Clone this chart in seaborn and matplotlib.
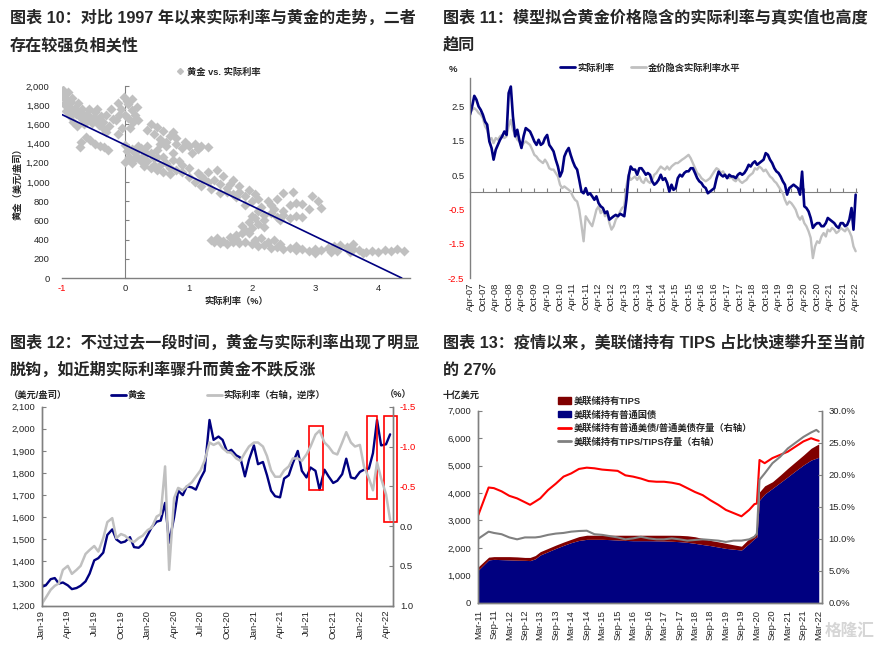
import matplotlib.pyplot as plt
import matplotlib.dates as mdates
from matplotlib.lines import Line2D
from matplotlib.patches import Patch, Rectangle
import numpy as np
import pandas as pd
import seaborn as sns

sns.set_style('white')
plt.rcParams['font.family'] = ['Liberation Sans', 'Noto Sans CJK SC', 'DejaVu Sans']
plt.rcParams['axes.unicode_minus'] = False

NAVY = '#000080'
LGRAY = '#C0C0C0'
AXC = '#808080'
TICK = 6.8

# ---------------- 图表10: 黄金 vs 实际利率 (1997-) ----------------
gold_vs_rate = [
    # 2011-2012 高金价
    (-0.98, 1960), (-0.95, 1925), (-0.99, 1885), (-0.93, 1860), (-0.97, 1815), (-0.90, 1790),
    (-0.86, 1835), (-0.85, 1745), (-0.80, 1770), (-0.78, 1705), (-0.72, 1725), (-0.70, 1665),
    (-0.66, 1695), (-0.62, 1645), (-0.60, 1705), (-0.55, 1665), (-0.52, 1615), (-0.48, 1725),
    (-0.45, 1645), (-0.42, 1595), (-0.38, 1685), (-0.35, 1625), (-0.88, 1690), (-0.82, 1620),
    (-0.76, 1585), (-0.93, 1740), (-0.68, 1760), (-0.58, 1760), (-0.50, 1680), (-0.65, 1600),
    (-0.72, 1360), (-0.70, 1420), (-0.62, 1470), (-0.55, 1440), (-0.48, 1400), (-0.40, 1380),
    (-0.33, 1360), (-0.28, 1330), (-0.90, 1940), (-0.84, 1880), (-0.74, 1820), (-0.44, 1760),
    # 2019-2020
    (-0.30, 1700), (-0.22, 1760), (-0.12, 1820), (-0.02, 1890), (-0.06, 1760), (0.05, 1810),
    (0.10, 1745), (0.15, 1700), (0.05, 1665), (-0.15, 1645), (-0.25, 1585), (0.12, 1625),
    (-0.05, 1565), (0.18, 1785), (0.00, 1700), (-0.10, 1700), (-0.20, 1660), (0.08, 1560),
    (-0.35, 1560), (0.20, 1650), (-0.30, 1520), (-0.12, 1500), (0.02, 1840), (0.10, 1860),
    (0.40, 1600), (0.50, 1575), (0.60, 1535), (0.70, 1480), (0.45, 1505), (0.75, 1525),
    (0.80, 1455), (0.55, 1450), (0.65, 1420), (0.35, 1540),
    # 2010-2018
    (0.00, 1390), (0.02, 1320), (0.06, 1260), (0.00, 1205), (0.10, 1200), (0.15, 1300),
    (0.20, 1250), (0.25, 1350), (0.30, 1280), (0.35, 1220), (0.40, 1300), (0.45, 1250),
    (0.50, 1330), (0.55, 1180), (0.60, 1260), (0.65, 1380), (0.70, 1150), (0.75, 1300),
    (0.80, 1400), (0.85, 1220), (0.90, 1350), (1.00, 1380), (1.10, 1400), (1.20, 1380),
    (1.30, 1360), (0.50, 1120), (0.60, 1100), (0.70, 1080), (0.40, 1150), (0.30, 1170),
    (0.20, 1380), (0.95, 1420), (1.05, 1300), (0.35, 1380), (0.55, 1400), (0.45, 1180),
    (0.80, 1130), (0.90, 1180), (0.25, 1220), (0.10, 1340), (0.15, 1250), (0.65, 1200),
    (0.75, 1230), (1.15, 1340), (0.30, 1320), (0.50, 1260),
    # 2008-2009
    (0.90, 1100), (1.00, 1050), (1.10, 1000), (1.15, 1090), (1.20, 960), (1.30, 1000),
    (1.35, 930), (1.40, 1020), (1.50, 980), (1.60, 940), (1.50, 890), (1.70, 880),
    (1.80, 900), (1.75, 840), (1.90, 850), (2.00, 800), (1.90, 760), (1.65, 980),
    (1.80, 960), (1.30, 1100), (1.55, 1060), (1.95, 920), (2.05, 880), (2.10, 820),
    (1.00, 1150), (1.20, 1060), (1.45, 1120), (1.70, 1020), (1.25, 1030), (1.60, 900),
    # 2006-2008
    (2.10, 700), (2.20, 660), (2.30, 680), (2.40, 640), (2.50, 660), (2.60, 620),
    (2.70, 650), (2.80, 640), (2.35, 720), (2.50, 700), (2.20, 600), (2.45, 600),
    (2.15, 740), (2.30, 760), (2.60, 760), (2.70, 780), (2.80, 770), (2.95, 850),
    (3.05, 800), (3.10, 730), (2.90, 720), (2.50, 890), (2.40, 820), (2.65, 900),
    (2.25, 800), (2.00, 650),
    (1.90, 500), (2.00, 520), (2.10, 560), (1.95, 580), (2.20, 530), (1.85, 540), (2.05, 620),
    # 1997-2005
    (1.35, 400), (1.45, 420), (1.55, 390), (1.65, 430), (1.75, 450), (1.85, 470),
    (1.95, 470), (1.50, 360), (1.60, 350), (1.70, 380), (1.80, 360), (1.90, 380),
    (2.00, 350), (2.10, 330), (2.20, 340), (2.30, 310), (2.40, 320), (2.50, 300),
    (2.60, 310), (2.70, 290), (2.80, 300), (2.90, 280), (3.00, 300), (3.10, 290),
    (3.20, 310), (3.30, 330), (3.40, 340), (3.50, 320), (3.60, 300), (3.70, 290),
    (3.80, 270), (3.90, 280), (4.00, 270), (4.10, 290), (4.20, 280), (4.30, 300),
    (4.40, 280), (3.35, 280), (3.55, 270), (3.75, 260), (2.05, 400), (2.25, 370),
    (2.45, 350), (1.75, 410), (3.00, 260), (2.70, 330), (3.60, 350), (3.25, 270),
    (2.15, 420), (2.35, 400), (1.40, 370),
]
rate_pts = [p[0] for p in gold_vs_rate]
gold_pts = [p[1] for p in gold_vs_rate]
fit_intercept = 1385.0
fit_slope = -317.0
fit_range = [-1.0, 4.37]

# ---------------- 图表11: 实际利率 vs 金价隐含实际利率 (月度, Apr-07 ~ Apr-22) ----------------
real_rate_m = [
    2.26, 2.50, 2.81, 2.70, 2.50, 2.40, 2.26, 2.06, 1.97,
    1.48, 1.29, 0.95, 1.24, 1.38, 1.53, 1.63, 1.77, 1.67, 2.89, 3.08, 2.21,
    1.63, 1.82, 1.53, 1.29, 1.63, 1.87, 1.82, 1.77, 1.63, 1.48, 1.38, 1.53,
    1.38, 1.43, 1.58, 1.67, 1.38, 1.29, 1.19, 0.95, 0.75, 0.46, 0.61, 1.04,
    1.19, 1.29, 1.09, 0.90, 0.75, 0.66, 0.36, 0.02, -0.03, 0.12, -0.07, -0.03,
    -0.12, -0.22, -0.12, -0.32, -0.41, -0.46, -0.61, -0.56, -0.80, -0.75, -0.70, -0.66,
    -0.70, -0.63, -0.66, -0.70, -0.22, 0.46, 0.75, 0.66, 0.66, 0.51, 0.70, 0.70,
    0.61, 0.51, 0.56, 0.51, 0.32, 0.22, 0.27, 0.36, 0.51, 0.36, 0.41, 0.27,
    0.02, 0.22, 0.07, 0.12, 0.41, 0.51, 0.46, 0.56, 0.61, 0.61, 0.70, 0.70,
    0.56, 0.41, 0.32, 0.27, 0.17, 0.12, -0.03, 0.02, 0.07, 0.12, 0.40, 0.60,
    0.51, 0.46, 0.51, 0.41, 0.51, 0.46, 0.46, 0.41, 0.51, 0.56, 0.51, 0.56,
    0.66, 0.80, 0.75, 0.85, 0.90, 0.80, 0.85, 0.90, 0.95, 1.14, 1.09, 0.95,
    0.85, 0.70, 0.61, 0.56, 0.46, 0.32, 0.22, -0.07, 0.12, 0.17, 0.22, 0.17,
    0.12, -0.07, 0.60, -0.41, -0.46, -0.56, -0.75, -1.04, -0.95, -0.90, -0.90, -0.99,
    -0.99, -0.90, -0.75, -0.80, -0.85, -0.90, -0.99, -1.04, -0.90, -0.90, -0.99, -0.95,
    -0.80, -0.46, -1.09, -0.07,
]
implied_rate_m = [
    2.31, 2.40, 2.45, 2.40, 2.31, 2.26, 2.16, 1.92, 1.82,
    1.53, 1.58, 1.43, 1.58, 1.53, 1.63, 1.67, 1.58, 1.63, 1.92, 2.11, 1.82,
    1.67, 1.53, 1.48, 1.33, 1.43, 1.48, 1.43, 1.38, 1.24, 1.09, 1.04, 0.95,
    0.90, 0.85, 0.95, 0.85, 0.70, 0.66, 0.66, 0.56, 0.46, 0.22, 0.12, 0.17,
    0.12, 0.07, 0.02, -0.12, -0.22, -0.27, -0.51, -0.95, -1.43, -0.70, -0.80, -0.90,
    -0.99, -0.75, -0.51, -0.41, -0.61, -0.51, -0.70, -0.61, -0.90, -1.09, -0.99, -0.80,
    -0.70, -0.56, -0.46, -0.41, 0.17, 0.51, 0.36, 0.41, 0.46, 0.36, 0.46, 0.32,
    0.27, 0.41, 0.32, 0.27, 0.36, 0.51, 0.56, 0.66, 0.75, 0.70, 0.66, 0.75,
    0.66, 0.75, 0.80, 0.85, 0.85, 0.90, 0.95, 0.99, 1.04, 1.09, 0.99, 0.85,
    0.70, 0.56, 0.51, 0.41, 0.36, 0.32, 0.36, 0.41, 0.51, 0.61, 0.70, 0.66,
    0.56, 0.61, 0.51, 0.46, 0.41, 0.46, 0.36, 0.32, 0.41, 0.32, 0.27, 0.32,
    0.36, 0.46, 0.51, 0.56, 0.70, 0.66, 0.75, 0.70, 0.61, 0.66, 0.56, 0.46,
    0.41, 0.32, 0.27, 0.17, 0.07, -0.03, -0.22, -0.36, -0.27, -0.32, -0.41, -0.51,
    -0.70, -0.80, -0.70, -0.90, -0.99, -1.14, -1.33, -1.92, -1.58, -1.43, -1.48, -1.29,
    -1.19, -1.29, -1.09, -1.14, -1.04, -1.09, -1.19, -1.14, -1.04, -1.09, -1.14, -1.04,
    -1.14, -1.29, -1.58, -1.72,
]
months2 = pd.date_range('2007-04-01', periods=len(real_rate_m), freq='MS')

# ---------------- 图表12: 黄金 vs 实际利率 (半月, Jan-19 ~ Apr-22) ----------------
gold_price = [
    1285, 1292, 1320, 1325, 1300, 1305, 1292, 1275, 1280, 1290, 1310, 1345,
    1405, 1415, 1440, 1520, 1545, 1500, 1485, 1490, 1510, 1465, 1462, 1478,
    1520, 1555, 1580, 1585, 1665, 1485, 1600, 1720, 1700, 1740, 1735, 1725,
    1775, 1810, 2040, 1950, 1965, 1950, 1895, 1905, 1880, 1870, 1785, 1860,
    1925, 1840, 1850, 1790, 1720, 1695, 1690, 1775, 1790, 1845, 1900, 1810,
    1780, 1825, 1810, 1725, 1815, 1785, 1755, 1765, 1795, 1865, 1780, 1775,
    1805, 1815, 1820, 1890, 2040, 1925, 1930, 1975,
]
real_rate_h = [
    0.98, 0.90, 0.80, 0.75, 0.72, 0.55, 0.50, 0.60, 0.55, 0.50, 0.35, 0.30,
    0.25, 0.32, 0.15, -0.05, -0.10, 0.15, 0.10, 0.12, 0.18, 0.20, 0.15, 0.12,
    0.05, 0.02, -0.12, -0.15, -0.75, 0.55, -0.35, -0.48, -0.45, -0.50, -0.55, -0.62,
    -0.70, -0.82, -1.05, -1.02, -1.05, -0.98, -0.93, -0.92, -0.85, -0.82, -0.92, -1.00,
    -1.05, -1.05, -1.00, -0.88, -0.70, -0.62, -0.62, -0.70, -0.75, -0.85, -0.85, -0.82,
    -0.90, -1.00, -1.15, -1.20, -1.05, -1.00, -0.92, -0.90, -1.05, -1.18, -1.05, -1.00,
    -1.02, -0.75, -0.60, -0.45, -0.80, -0.60, -0.40, -0.08,
]
halfmonths3 = pd.date_range('2019-01-01', periods=len(gold_price), freq='SMS')
# 红框 (起, 止, 金价下沿, 金价上沿)
boxes3 = [
    ('2021-07-09', '2021-08-27', 1723, 2013),
    ('2022-01-26', '2022-03-01', 1683, 2058),
    ('2022-03-24', '2022-05-08', 1579, 2058),
]

# ---------------- 图表13: 美联储持有国债 ----------------
dates4 = [
    '2011-03', '2011-07', '2011-09', '2011-12', '2012-03', '2012-06', '2012-09', '2012-11',
    '2013-01', '2013-03', '2013-06', '2013-09', '2013-12', '2014-03', '2014-06', '2014-09',
    '2014-12', '2015-03', '2015-06', '2015-09', '2015-12', '2016-03', '2016-06', '2016-09',
    '2016-12', '2017-03', '2017-06', '2017-09', '2017-12', '2018-03', '2018-06', '2018-09',
    '2018-12', '2019-03', '2019-06', '2019-09', '2019-12', '2020-02', '2020-03', '2020-04',
    '2020-06', '2020-09', '2020-12', '2021-03', '2021-06', '2021-09', '2021-12', '2022-02',
    '2022-03',
]
fed_nominal = [
    1190, 1560, 1580, 1570, 1560, 1550, 1545, 1535, 1600, 1740, 1860, 1980,
    2090, 2190, 2270, 2310, 2310, 2310, 2300, 2285, 2270, 2260, 2260, 2260,
    2255, 2250, 2240, 2225, 2200, 2165, 2120, 2080, 2030, 1980, 1950, 1920,
    2160, 2340, 2400, 3740, 3960, 4170, 4380, 4590, 4810, 5020, 5200, 5270,
    5300,
]
fed_total = [
    1310, 1660, 1680, 1680, 1680, 1670, 1650, 1650, 1720, 1860, 1980, 2100,
    2210, 2310, 2410, 2460, 2460, 2460, 2460, 2460, 2460, 2460, 2460, 2460,
    2460, 2460, 2460, 2455, 2440, 2405, 2340, 2270, 2220, 2165, 2110, 2060,
    2340, 2470, 2500, 4040, 4260, 4410, 4650, 4900, 5140, 5380, 5630, 5740,
    5785,
]
share_nominal = [
    13.7, 18.0, 17.9, 17.4, 16.7, 16.3, 15.7, 15.3, 15.8, 16.3, 17.6, 18.6,
    19.7, 20.2, 20.9, 21.1, 21.0, 20.8, 20.7, 20.6, 19.9, 19.7, 19.4, 19.0,
    18.9, 18.9, 18.75, 18.5, 17.9, 17.3, 16.8, 16.0, 15.3, 14.5, 14.0, 13.5,
    14.5, 15.4, 15.5, 22.3, 21.8, 22.6, 23.1, 23.6, 24.4, 25.2, 25.7, 25.4,
    25.3,
]
share_tips = [
    10.0, 11.1, 10.9, 10.7, 10.2, 9.9, 10.2, 10.2, 10.2, 10.3, 10.6, 10.8,
    10.9, 11.1, 11.2, 11.25, 10.7, 10.6, 10.4, 10.2, 9.9, 10.05, 10.3, 10.05,
    9.9, 9.9, 10.05, 9.9, 9.7, 9.8, 9.9, 9.8, 9.7, 9.5, 9.7, 9.7,
    9.9, 10.3, 10.8, 19.2, 20.2, 21.8, 22.8, 24.1, 25.0, 25.9, 26.6, 27.0,
    26.7,
]

W, H = 874, 648


def fx(x):
    return x / W


def fy(y):
    return 1 - y / H


def add_axes_px(left, top, right, bottom):
    return fig.add_axes([fx(left), fy(bottom), (right - left) / W, (bottom - top) / H])


def style_spines(ax, visible):
    for side in ['left', 'right', 'top', 'bottom']:
        ax.spines[side].set_visible(side in visible)
        ax.spines[side].set_color(AXC)
        ax.spines[side].set_linewidth(1.0)


fig = plt.figure(figsize=(8.74, 6.48), dpi=100)

title_kw = dict(fontsize=11.6, fontweight='bold', va='center', ha='left')
fig.text(fx(10), fy(18), '图表 10：对比 1997 年以来实际利率与黄金的走势，二者', **title_kw)
fig.text(fx(10), fy(45), '存在较强负相关性', **title_kw)
fig.text(fx(443), fy(18), '图表 11：模型拟合黄金价格隐含的实际利率与真实值也高度', **title_kw)
fig.text(fx(443), fy(45), '趋同', **title_kw)
fig.text(fx(10), fy(343), '图表 12：不过过去一段时间，黄金与实际利率出现了明显', **title_kw)
fig.text(fx(10), fy(370), '脱钩，如近期实际利率骤升而黄金不跌反涨', **title_kw)
fig.text(fx(443), fy(343), '图表 13：疫情以来，美联储持有 TIPS 占比快速攀升至当前', **title_kw)
fig.text(fx(443), fy(370), '的 27%', **title_kw)

small_bold = {'size': 6.7, 'weight': 'bold'}

# ---------------- panel 1 ----------------
ax1 = add_axes_px(62, 86, 410, 278)
sns.scatterplot(x=rate_pts, y=gold_pts, color=LGRAY, marker='D', s=26, linewidth=0, ax=ax1, zorder=2)
fit_x = np.array(fit_range)
sns.lineplot(x=fit_x, y=fit_intercept + fit_slope * fit_x, color=NAVY, linewidth=1.2, ax=ax1, zorder=3)
ax1.set_xlim(-1, 4.5)
ax1.set_ylim(0, 2000)
ax1.set_xticks([-1, 0, 1, 2, 3, 4])
ax1.set_xticklabels(['-1', '0', '1', '2', '3', '4'])
ax1.get_xticklabels()[0].set_color('red')
ax1.set_yticks(range(0, 2001, 200))
ax1.set_yticklabels([f'{v:,}' for v in range(0, 2001, 200)])
style_spines(ax1, ['bottom'])
ax1.tick_params(axis='y', length=0, pad=9, labelsize=TICK)
ax1.tick_params(axis='x', direction='in', length=3, color=AXC, pad=4, labelsize=TICK)
sec1 = ax1.secondary_yaxis(1 / 5.5)
sec1.set_yticks(range(0, 2001, 200))
sec1.set_yticklabels([])
sec1.tick_params(direction='in', length=3, color=AXC)
sec1.spines['left'].set_color(AXC)
ax1.set_xlabel('实际利率（%）', fontdict=small_bold, labelpad=3)
ax1.set_ylabel('黄金（美元/盎司）', fontdict=small_bold)
ax1.yaxis.set_label_coords(-0.115, 0.5)
fig.legend(handles=[Line2D([], [], marker='D', color=LGRAY, ls='', ms=3)],
           labels=['黄金 vs. 实际利率'], loc='center', bbox_to_anchor=(fx(218), fy(72)),
           frameon=False, prop=small_bold, handletextpad=0.2, handlelength=1.0)

# ---------------- panel 2 ----------------
ax2 = add_axes_px(470, 78, 857, 278)
df2 = pd.DataFrame({'date': months2, 'real': real_rate_m, 'implied': implied_rate_m})
sns.lineplot(data=df2, x='date', y='implied', color=LGRAY, linewidth=1.7, ax=ax2)
sns.lineplot(data=df2, x='date', y='real', color=NAVY, linewidth=1.9, ax=ax2)
ax2.set_ylim(-2.5, 3.33)
ax2.set_xlim(pd.Timestamp('2007-04-01'), pd.Timestamp('2022-04-20'))
yt2 = [-2.5, -1.5, -0.5, 0.5, 1.5, 2.5]
ax2.set_yticks(yt2)
ax2.set_yticklabels([f'{v:.1f}' for v in yt2])
for lab, v in zip(ax2.get_yticklabels(), yt2):
    if v < 0:
        lab.set_color('red')
xt2 = pd.date_range('2007-04-01', '2022-04-01', freq='6MS')
ax2.set_xticks(xt2)
ax2.xaxis.set_major_formatter(mdates.DateFormatter('%b-%y'))
style_spines(ax2, ['left'])
ax2.tick_params(axis='x', length=0, labelrotation=90, labelsize=TICK, pad=3)
ax2.tick_params(axis='y', length=0, labelsize=TICK, pad=4)
ax2.set_xlabel('')
ax2.set_ylabel('')
sec2 = ax2.secondary_xaxis(2.5 / 5.83)
sec2.set_xticks(xt2)
sec2.set_xticklabels([])
sec2.tick_params(direction='in', length=3, color=AXC)
sec2.spines['bottom'].set_color(AXC)
fig.text(fx(453), fy(70), '%', fontsize=TICK, fontweight='bold', ha='center', va='center')
fig.legend(handles=[Line2D([], [], color=NAVY, lw=2), Line2D([], [], color=LGRAY, lw=2)],
           labels=['实际利率', '金价隐含实际利率水平'], loc='center', ncol=2,
           bbox_to_anchor=(fx(650), fy(68)), frameon=False, prop=small_bold,
           handlelength=1.6, handletextpad=0.2, columnspacing=1.8)

# ---------------- panel 3 ----------------
ax3 = add_axes_px(41.7, 406.7, 393, 605.7)
df3 = pd.DataFrame({'date': halfmonths3, 'gold': gold_price, 'rate': real_rate_h})
sns.lineplot(data=df3, x='date', y='gold', color=NAVY, linewidth=1.7, ax=ax3)
ax3.set_ylim(1200, 2100)
ax3.set_xlim(pd.Timestamp('2019-01-01'), pd.Timestamp('2022-04-25'))
ax3r = ax3.twinx()
sns.lineplot(data=df3, x='date', y='rate', color=LGRAY, linewidth=1.8, ax=ax3r)
ax3r.set_ylim(1.0, -1.5)
ax3.set_yticks(range(1200, 2101, 100))
ax3.set_yticklabels([f'{v:,}' for v in range(1200, 2101, 100)])
yt3 = [-1.5, -1.0, -0.5, 0.0, 0.5, 1.0]
ax3r.set_yticks(yt3)
ax3r.set_yticklabels([f'{v:.1f}' for v in yt3])
for lab, v in zip(ax3r.get_yticklabels(), yt3):
    if v < 0:
        lab.set_color('red')
xt3 = pd.date_range('2019-01-01', '2022-04-01', freq='3MS')
ax3.set_xticks(xt3)
ax3.xaxis.set_major_formatter(mdates.DateFormatter('%b-%y'))
for a in (ax3, ax3r):
    style_spines(a, ['left', 'right', 'bottom'])
    a.set_xlabel('')
    a.set_ylabel('')
ax3.tick_params(axis='x', direction='in', length=3, color=AXC, labelrotation=90, labelsize=TICK, pad=3)
ax3.tick_params(axis='y', direction='in', length=3, color=AXC, labelsize=TICK, pad=5)
ax3r.tick_params(axis='y', direction='in', length=3, color=AXC, labelsize=TICK, pad=5)
for start, end, lo, hi in boxes3:
    x0 = mdates.date2num(pd.Timestamp(start))
    x1 = mdates.date2num(pd.Timestamp(end))
    ax3.add_patch(Rectangle((x0, lo), x1 - x0, hi - lo, fill=False, edgecolor='red',
                            linewidth=1.2, clip_on=False, zorder=5))
fig.text(fx(38), fy(395), '（美元/盎司）', fontsize=6.7, fontweight='bold', ha='center', va='center')
fig.text(fx(398), fy(395), '（%）', fontsize=6.7, fontweight='bold', ha='center', va='center')
fig.legend(handles=[Line2D([], [], color=NAVY, lw=2), Line2D([], [], color=LGRAY, lw=2)],
           labels=['黄金', '实际利率（右轴，逆序）'], loc='center', ncol=2,
           bbox_to_anchor=(fx(218), fy(395)), frameon=False, prop=small_bold,
           handlelength=1.6, handletextpad=0.2, columnspacing=6.5)

# ---------------- panel 4 ----------------
ax4 = add_axes_px(478.3, 410.7, 821.7, 602.7)
d4 = pd.to_datetime(dates4)
df4 = pd.DataFrame({'date': d4, 'nominal': fed_nominal, 'total': fed_total,
                    'share_nominal': share_nominal, 'share_tips': share_tips})
ax4.fill_between(df4['date'], 0, df4['nominal'], color=NAVY, linewidth=0)
ax4.fill_between(df4['date'], df4['nominal'], df4['total'], color='#800000', linewidth=0)
ax4.set_ylim(0, 7000)
ax4.set_xlim(pd.Timestamp('2011-03-01'), pd.Timestamp('2022-04-05'))
ax4r = ax4.twinx()
sns.lineplot(data=df4, x='date', y='share_nominal', color='#FF0000', linewidth=1.5, ax=ax4r)
sns.lineplot(data=df4, x='date', y='share_tips', color=AXC, linewidth=1.5, ax=ax4r)
ax4r.set_ylim(0, 30)
ax4.set_yticks(range(0, 7001, 1000))
ax4.set_yticklabels([f'{v:,}' for v in range(0, 7001, 1000)])
ax4r.set_yticks(range(0, 31, 5))
ax4r.set_yticklabels([f'{v:.1f}%' for v in range(0, 31, 5)])
xt4 = pd.date_range('2011-03-01', '2022-03-01', freq='6MS')
ax4.set_xticks(xt4)
ax4.xaxis.set_major_formatter(mdates.DateFormatter('%b-%y'))
for a in (ax4, ax4r):
    style_spines(a, ['left', 'right', 'bottom'])
    a.set_xlabel('')
    a.set_ylabel('')
ax4.tick_params(axis='x', direction='out', length=3, color=AXC, labelrotation=90, labelsize=TICK, pad=2)
ax4.tick_params(axis='y', direction='in', length=3, color=AXC, labelsize=TICK, pad=5)
ax4r.tick_params(axis='y', direction='in', length=3, color=AXC, labelsize=TICK, pad=5)
fig.text(fx(461), fy(395), '十亿美元', fontsize=6.7, fontweight='bold', ha='center', va='center')
fig.legend(handles=[Patch(color='#800000'), Patch(color=NAVY),
                    Line2D([], [], color='#FF0000', lw=2), Line2D([], [], color=AXC, lw=2)],
           labels=['美联储持有TIPS', '美联储持有普通国债', '美联储持有普通美债/普通美债存量（右轴）',
                   '美联储持有TIPS/TIPS存量（右轴）'],
           loc='upper left', bbox_to_anchor=(fx(550), fy(388)), frameon=False, prop=small_bold,
           handlelength=1.4, handleheight=0.7, handletextpad=0.2, labelspacing=0.45)

fig.text(fx(850), fy(631), '格隆汇', fontsize=12, fontweight='bold', color='#BBBBBB',
         alpha=0.6, ha='center', va='center')

fig.savefig('out.png', dpi=100)
